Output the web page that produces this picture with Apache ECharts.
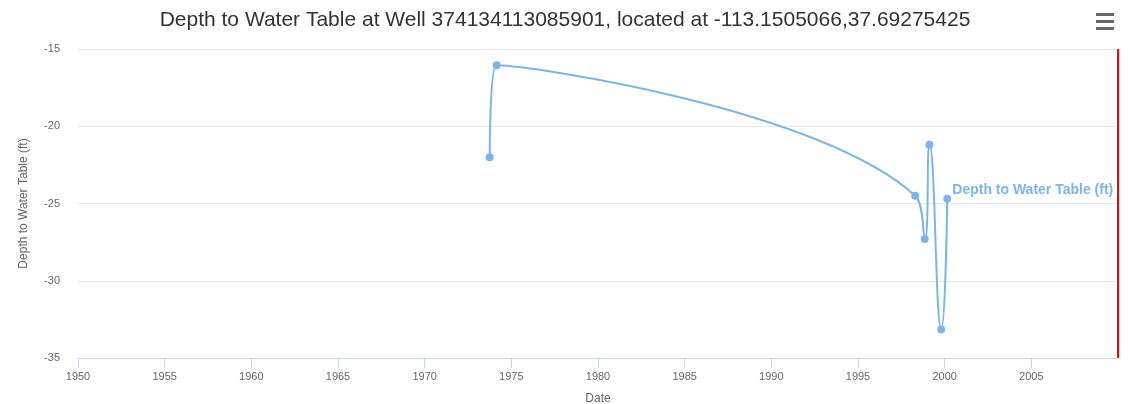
<!DOCTYPE html>
<html>
<head>
<meta charset="utf-8">
<script src="https://cdn.jsdelivr.net/npm/echarts@6/dist/echarts.min.js"></script>
<style>
  html, body { margin: 0; padding: 0; background: #fff; }
  #chart { width: 1130px; height: 404px; }
</style>
</head>
<body>
<div id="chart"></div>
<script>
// measurement dates (decimal years) and depth to water table (ft)
const years = [1973.75, 1974.15, 1998.3, 1998.85, 1999.12, 1999.8, 2000.15];
const depths = [-22.0, -16.05, -24.5, -27.3, -21.2, -33.15, -24.7];
const seriesName = 'Depth to Water Table (ft)';
const wellId = '374134113085901';
const wellLocation = '-113.1505066,37.69275425';
const xTicks = [1950, 1955, 1960, 1965, 1970, 1975, 1980, 1985, 1990, 1995, 2000, 2005];
const xMin = 1950, xMax = 2010, xStep = 5;
const yMin = -35, yMax = -15, yStep = 5;
const markerYear = 2010;

const font = '"Liberation Sans", Arial, sans-serif';
const data = years.map((y, i) => [y, depths[i]]);

let myChart = echarts.init(document.getElementById('chart'));
myChart.setOption({
  animation: false,
  textStyle: { fontFamily: font },
  title: {
    text: 'Depth to Water Table at Well ' + wellId + ', located at ' + wellLocation,
    left: 'center',
    top: 5,
    textStyle: { fontFamily: font, fontSize: 21, fontWeight: 'normal', color: '#333333' }
  },
  graphic: [{
    type: 'group',
    left: 1096,
    top: 13,
    children: [0, 7, 14].map(dy => ({
      type: 'rect',
      shape: { x: 0, y: dy, width: 18, height: 3 },
      style: { fill: '#666666' }
    }))
  }],
  grid: { left: 78, right: 12, top: 49, bottom: 46, outerBoundsMode: 'none', containLabel: false },
  xAxis: {
    type: 'value',
    min: xMin,
    max: xMax,
    interval: xStep,
    name: 'Date',
    nameLocation: 'middle',
    nameGap: 35,
    nameTextStyle: { color: '#666666', fontSize: 12 },
    axisLine: { show: true, lineStyle: { color: '#ccd6eb' } },
    axisTick: { show: true, length: 10, customValues: xTicks, lineStyle: { color: '#ccd6eb' } },
    splitLine: { show: false },
    axisLabel: {
      color: '#666666',
      fontSize: 11,
      margin: 13,
      customValues: xTicks,
      formatter: v => String(v)
    }
  },
  yAxis: {
    type: 'value',
    min: yMin,
    max: yMax,
    interval: yStep,
    name: seriesName,
    nameLocation: 'middle',
    nameGap: 48,
    nameTextStyle: { color: '#666666', fontSize: 12 },
    axisLine: { show: false },
    axisTick: { show: false },
    splitLine: { lineStyle: { color: '#e6e6e6' } },
    axisLabel: { color: '#666666', fontSize: 11, margin: 18 }
  },
  series: [{
    name: seriesName,
    type: 'line',
    data: data,
    smooth: 0.55,
    symbol: 'circle',
    symbolSize: 8,
    lineStyle: { color: '#7cb5ec', width: 2 },
    itemStyle: { color: '#7cb5ec' },
    endLabel: {
      show: true,
      formatter: seriesName,
      color: '#7cb5ec',
      fontWeight: 'bold',
      fontSize: 14,
      distance: 5,
      offset: [0, -9]
    },
    markLine: {
      silent: true,
      symbol: 'none',
      label: { show: false },
      lineStyle: { color: '#ff0000', width: 2, type: 'solid' },
      data: [{ xAxis: markerYear }]
    }
  }]
});
</script>
</body>
</html>
